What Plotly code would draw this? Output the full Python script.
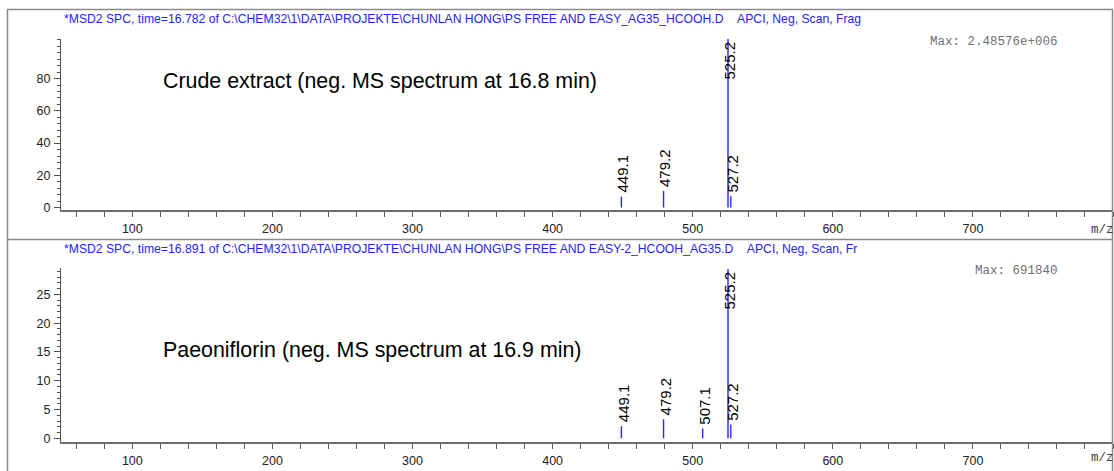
import plotly.graph_objects as go

# ---------------- data ----------------
mz_top = [449.1, 479.2, 525.2, 527.2]
int_top = [6.8, 10.3, 104.6, 7.0]
mz_bot = [449.1, 479.2, 507.1, 525.2, 527.2]
int_bot = [2.1, 3.3, 1.7, 29.4, 2.4]

yticks_top = [0, 20, 40, 60, 80]
yticks_bot = [0, 5, 10, 15, 20, 25]
xticks = [100, 200, 300, 400, 500, 600, 700]

title_top = ("*MSD2 SPC, time=16.782 of C:\\CHEM32\\1\\DATA\\PROJEKTE\\CHUNLAN HONG\\PS FREE AND "
             "EASY_AG35_HCOOH.D&nbsp;&nbsp;&nbsp;&nbsp;APCI, Neg, Scan, Frag")
title_bot = ("*MSD2 SPC, time=16.891 of C:\\CHEM32\\1\\DATA\\PROJEKTE\\CHUNLAN HONG\\PS FREE AND "
             "EASY-2_HCOOH_AG35.D&nbsp;&nbsp;&nbsp;&nbsp;APCI, Neg, Scan, Fr")
max_top = "Max: 2.48576e+006"
max_bot = "Max: 691840"
note_top = "Crude extract (neg. MS spectrum at 16.8 min)"
note_bot = "Paeoniflorin (neg. MS spectrum at 16.9 min)"

# ---------------- layout helpers ----------------
W, H = 1114, 471
def px(x):
    return x / W
def py(y):
    return 1 - y / H

BLUE = "#2424ff"
AXC = "#505050"
SANS = "Liberation Sans, Arial, sans-serif"
MONO = "Liberation Mono, Courier New, monospace"

def stick_xy(mz, inten):
    xs, ys = [], []
    for m, v in zip(mz, inten):
        xs += [m, m, None]
        ys += [0, v, None]
    return xs, ys

fig = go.Figure()
xs, ys = stick_xy(mz_top, int_top)
fig.add_trace(go.Scatter(x=xs, y=ys, mode="lines", line=dict(color=BLUE, width=1.4),
                         xaxis="x", yaxis="y", hoverinfo="skip", showlegend=False))
xs, ys = stick_xy(mz_bot, int_bot)
fig.add_trace(go.Scatter(x=xs, y=ys, mode="lines", line=dict(color=BLUE, width=1.4),
                         xaxis="x2", yaxis="y2", hoverinfo="skip", showlegend=False))

xdom = [px(61), px(1113)]
common_x = dict(range=[49.1, 800], showline=True, linecolor="#707070", linewidth=1.5,
                ticks="outside", ticklen=5, tickcolor="#606060", tickwidth=1,
                tickvals=xticks, showgrid=False, zeroline=False,
                tickfont=dict(family=SANS, size=12.5, color="#222"),
                ticklabelstandoff=1,
                minor=dict(tick0=0, dtick=20, ticks="outside", ticklen=5,
                           tickcolor="#606060", showgrid=False),
                domain=xdom, fixedrange=True)
common_y = dict(showline=True, linecolor=AXC, linewidth=1.2, ticks="outside",
                ticklen=6, tickcolor=AXC, showgrid=False, zeroline=False,
                tickfont=dict(family=SANS, size=12.5, color="#222"),
                ticklabelstandoff=1, fixedrange=True)

fig.update_layout(
    width=W, height=H, margin=dict(l=0, r=0, t=0, b=0), autosize=False,
    paper_bgcolor="white", plot_bgcolor="white",
    xaxis=dict(common_x, anchor="y"),
    yaxis=dict(common_y, range=[-1.8, 104.8], tickvals=yticks_top,
               domain=[py(212.3), py(39)], anchor="x",
               minor=dict(tick0=0, dtick=4, ticks="outside", ticklen=3,
                          tickcolor=AXC, showgrid=False)),
    xaxis2=dict(common_x, anchor="y2"),
    yaxis2=dict(common_y, range=[-0.62, 29.5], tickvals=yticks_bot,
                domain=[py(445.7), py(270.7)], anchor="x2",
                minor=dict(tick0=0, dtick=1, ticks="outside", ticklen=3,
                           tickcolor=AXC, showgrid=False)),
)

# peak labels
def add_labels(mz, inten, xa, ya):
    top = max(inten)
    for m, v in zip(mz, inten):
        is_base = (v == top)
        fig.add_annotation(x=m, y=v, xref=xa, yref=ya, text=f"{m:.1f}",
                           textangle=-90, showarrow=False, xanchor="center",
                           yanchor="top" if is_base else "bottom",
                           xshift=1.5, yshift=-1 if is_base else 2,
                           font=dict(family=SANS, size=15, color="black"))

add_labels(mz_top, int_top, "x", "y")
add_labels(mz_bot, int_bot, "x2", "y2")

# header texts
for t, yy in [(title_top, 19.5), (title_bot, 251.5)]:
    fig.add_annotation(x=px(62), y=py(yy), xref="paper", yref="paper", text=t,
                       showarrow=False, xanchor="left", yanchor="middle",
                       font=dict(family=SANS, size=12.2, color=BLUE))
for t, yy in [(max_top, 42), (max_bot, 273.5)]:
    fig.add_annotation(x=px(1060), y=py(yy), xref="paper", yref="paper", text=t,
                       showarrow=False, xanchor="right", yanchor="middle",
                       font=dict(family=MONO, size=12.5, color="#707070"))
for t, yy in [(note_top, 81.5), (note_bot, 352.5)]:
    fig.add_annotation(x=px(161), y=py(yy), xref="paper", yref="paper", text=t,
                       showarrow=False, xanchor="left", yanchor="middle",
                       font=dict(family=SANS, size=21.4, color="black"))
for t, yy in [("m/z", 232), ("m/z", 462)]:
    fig.add_annotation(x=px(1116), y=py(yy), xref="paper", yref="paper", text=t,
                       showarrow=False, xanchor="right", yanchor="middle",
                       font=dict(family=MONO, size=12.5, color="#404040"))

# frame
fig.add_shape(type="rect", xref="paper", yref="paper", x0=px(7.5), x1=px(1112.5),
              y0=-0.1, y1=py(9.5), line=dict(color="#8a8a8a", width=1.5), layer="above")
fig.add_shape(type="line", xref="paper", yref="paper", x0=px(7.5), x1=px(1112.5),
              y0=py(241.5), y1=py(241.5), line=dict(color="#8a8a8a", width=1.5))

fig.write_html("out.html", config={"displayModeBar": False})
